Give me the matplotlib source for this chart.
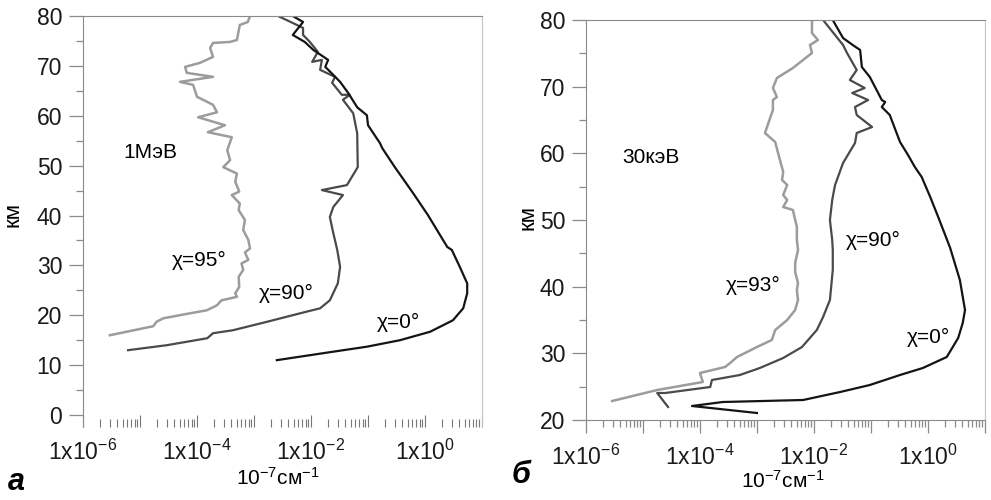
import numpy as np
import matplotlib
matplotlib.use("Agg")
import matplotlib.pyplot as plt
from matplotlib.ticker import LogLocator, FuncFormatter, MultipleLocator, NullFormatter

plt.rcParams['font.family'] = ['Liberation Sans', 'DejaVu Sans']
plt.rcParams['mathtext.fontset'] = 'custom'
plt.rcParams['mathtext.rm'] = 'Liberation Sans'
plt.rcParams['mathtext.it'] = 'Liberation Sans:italic'
plt.rcParams['mathtext.default'] = 'regular'

# panel a (1 MeV): log10 of coefficient vs altitude, km
a_chi0_log = [-2.32, -2.14, -2.32, -2.11, -1.96, -1.70, -1.75, -1.61, -1.49, -1.35,
              -1.19, -1.02, -1.00, -0.79, -0.75, -0.53, -0.21, 0.05, 0.39, 0.47,
              0.61, 0.74, 0.74, 0.67, 0.49, 0.09, -0.44, -1.02, -1.61, -2.60]
a_chi0_h = [80, 78.8, 76.2, 74.8, 73.2, 71.2, 69.8, 68.2, 66.8, 64.6,
            61.7, 60.1, 58.1, 54.5, 53.5, 49.7, 44.5, 40.1, 33.7, 33.1,
            29.7, 26.4, 24.4, 21.4, 19.0, 16.7, 15.0, 13.7, 12.7, 11.0]

a_chi90_log = [-2.58, -2.32, -2.14, -2.14, -2.02, -1.88, -1.98, -1.81, -1.84, -1.58,
               -1.63, -1.46, -1.32, -1.44, -1.26, -1.19, -1.18, -1.37, -1.81, -1.44,
               -1.61, -1.67, -1.61, -1.54, -1.49, -1.53, -1.67, -1.84, -2.19, -2.77,
               -3.37, -3.72, -3.82, -4.53, -5.21]
a_chi90_h = [80, 78.6, 77.6, 76.2, 74.8, 72.8, 70.8, 71.2, 69.2, 67.8,
             66.6, 64.2, 64.2, 63.2, 60.5, 56.5, 49.7, 46.1, 45.1, 44.1,
             41.7, 39.7, 36.5, 33.1, 29.7, 26.4, 23.0, 21.4, 20.4, 18.7,
             17.0, 16.4, 15.4, 14.0, 13.0]

a_chi95_log = [-3.07, -3.11, -3.25, -3.30, -3.42, -3.72, -3.77, -3.72, -3.95, -4.21,
               -4.18, -3.72, -4.30, -4.07, -4.00, -3.72, -3.65, -3.98, -3.51, -3.81,
               -3.39, -3.47, -3.42, -3.54, -3.30, -3.33, -3.26, -3.39, -3.25, -3.27,
               -3.16, -3.19, -3.10, -3.07, -3.16, -3.10, -3.22, -3.19, -3.27, -3.26,
               -3.33, -3.30, -3.57, -3.65, -3.83, -4.12, -4.59, -4.71, -4.77, -5.53]
a_chi95_h = [80, 78.8, 78.2, 75.2, 74.8, 74.6, 73.6, 71.8, 70.6, 69.8,
             68.6, 67.8, 66.8, 66.2, 63.8, 62.2, 60.7, 59.7, 58.1, 56.7,
             55.7, 53.1, 51.1, 49.7, 48.4, 46.8, 44.8, 44.1, 42.4, 41.1,
             39.1, 37.1, 35.1, 33.4, 32.6, 31.1, 30.4, 29.1, 27.7, 25.7,
             24.4, 23.7, 23.0, 22.0, 21.0, 20.4, 19.4, 18.7, 17.8, 16.0]

# panel b (30 keV)
b_chi0_log = [-1.67, -1.49, -1.32, -1.19, -1.16, -1.02, -0.81, -0.75, -0.81, -0.67,
              -0.49, -0.35, -0.23, -0.11, 0.04, 0.18, 0.39, 0.56, 0.65, 0.61,
              0.53, 0.33, -0.09, -0.49, -1.02, -1.54, -2.19, -3.60, -4.14, -3.00]
b_chi0_h = [80, 77.3, 76.25, 75.5, 72.95, 71.45, 68.0, 67.7, 66.95, 65.75,
            61.7, 59.75, 57.95, 56.45, 53.45, 50.45, 45.8, 41.0, 36.5, 34.55,
            32.3, 29.45, 27.8, 26.75, 25.25, 24.2, 23.0, 22.7, 22.1, 21.05]

b_chi90_log = [-1.84, -1.49, -1.42, -1.25, -1.37, -1.11, -1.33, -1.05, -1.28, -1.25,
               -0.98, -1.25, -1.28, -1.49, -1.63, -1.68, -1.72, -1.68, -1.67, -1.67,
               -1.72, -1.84, -1.95, -2.21, -2.54, -2.95, -3.30, -3.79, -3.82, -4.61,
               -4.75, -4.56]
b_chi90_h = [80, 76.25, 75.05, 72.5, 71.0, 69.8, 69.05, 68.0, 66.95, 65.75,
             63.95, 63.05, 61.55, 58.55, 55.25, 53.0, 50.0, 47.0, 45.5, 42.5,
             38.0, 35.45, 33.5, 30.95, 29.3, 27.8, 26.75, 26.0, 24.95, 24.05,
             24.05, 21.95]

b_chi93_log = [-2.035, -2.035, -1.93, -2.07, -2.035, -2.37, -2.65, -2.72, -2.65, -2.72,
               -2.72, -2.86, -2.68, -2.63, -2.54, -2.56, -2.47, -2.54, -2.47, -2.54,
               -2.37, -2.30, -2.30, -2.28, -2.33, -2.33, -2.28, -2.30, -2.28, -2.33,
               -2.47, -2.68, -2.74, -3.00, -3.35, -3.47, -3.56, -4.00, -3.95, -4.75,
               -5.54]
b_chi93_h = [80, 78.05, 77.0, 76.25, 75.05, 72.8, 71.3, 69.8, 68.45, 68.0,
             66.5, 63.05, 61.7, 60.05, 57.2, 56.0, 55.25, 53.75, 53.0, 51.95,
             51.5, 48.95, 47.0, 45.5, 43.55, 42.2, 40.55, 39.5, 38.0, 36.5,
             35.0, 33.5, 32.0, 30.95, 29.45, 28.55, 27.95, 27.05, 25.7, 24.5,
             22.85]

c_black = '#141414'
c_dark = '#4a4a4a'
c_light = '#9c9c9c'
c_spine = '#8a8a8a'
tick_fs = 16.5
note_fs = 15


def fmt_x(v, pos):
    e = int(round(np.log10(v)))
    if e % 2 == 0:
        return '1x10$^{%d}$' % e
    return ''


def style_axes(ax):
    ax.set_xscale('log')
    ax.set_xlim(1e-6, 1e1)
    ax.xaxis.set_major_locator(LogLocator(base=10, numticks=20))
    ax.xaxis.set_minor_locator(LogLocator(base=10, subs=np.arange(2, 10), numticks=20))
    ax.xaxis.set_major_formatter(FuncFormatter(fmt_x))
    ax.xaxis.set_minor_formatter(NullFormatter())
    ax.yaxis.set_major_locator(MultipleLocator(10))
    ax.yaxis.set_minor_locator(MultipleLocator(5))
    ax.spines['top'].set_color(c_spine)
    ax.spines['left'].set_color(c_spine)
    ax.spines['right'].set_color('#c4c4c4')
    ax.spines['bottom'].set_color(c_spine)
    ax.tick_params(axis='y', which='major', direction='out', length=10, width=0.9,
                   color=c_spine, labelsize=tick_fs, labelcolor='#1a1a1a', pad=5)
    ax.tick_params(axis='y', which='minor', direction='out', length=5, width=0.9, color=c_spine)
    ax.tick_params(axis='x', which='major', labelsize=tick_fs, labelcolor='#1a1a1a')


fig = plt.figure(figsize=(9.91, 5.0), dpi=100)

# ---- panel a
ax1 = fig.add_axes([0.0838, 0.146, 0.4026, 0.822])
style_axes(ax1)
ax1.set_ylim(-2.4, 80)
ax1.spines['bottom'].set_visible(False)
ax1.tick_params(axis='x', which='major', direction='in', length=9, width=0.8, color='#777777', pad=9)
ax1.tick_params(axis='x', which='minor', direction='in', length=6, width=0.8, color='#777777')

ax1.plot(10 ** np.array(a_chi95_log), a_chi95_h, color=c_light, lw=1.8)
ax1.plot(10 ** np.array(a_chi90_log), a_chi90_h, color=c_dark, lw=1.6)
ax1.plot(10 ** np.array(a_chi0_log), a_chi0_h, color=c_black, lw=1.6)

ax1.text(0.100, 0.667, '1МэВ', transform=ax1.transAxes, fontsize=note_fs, va='center', ha='left')
ax1.text(0.222, 0.406, 'χ=95°', transform=ax1.transAxes, fontsize=note_fs, va='center', ha='left')
ax1.text(0.440, 0.326, 'χ=90°', transform=ax1.transAxes, fontsize=note_fs, va='center', ha='left')
ax1.text(0.737, 0.255, 'χ=0°', transform=ax1.transAxes, fontsize=note_fs, va='center', ha='left')

ax1.set_ylabel('км', fontsize=16)
ax1.yaxis.set_label_coords(-0.148, 0.516)
ax1.set_xlabel('10$^{-7}$см$^{-1}$', fontsize=15)
ax1.xaxis.set_label_coords(0.489, -0.098)

# ---- panel b
ax2 = fig.add_axes([0.5913, 0.16, 0.4026, 0.80])
style_axes(ax2)
ax2.set_ylim(20, 80)
ax2.tick_params(axis='x', which='major', direction='out', length=9, width=0.9, color=c_spine, pad=9)
ax2.tick_params(axis='x', which='minor', direction='out', length=5, width=0.9, color=c_spine)

ax2.plot(10 ** np.array(b_chi93_log), b_chi93_h, color=c_light, lw=1.8)
ax2.plot(10 ** np.array(b_chi90_log), b_chi90_h, color=c_dark, lw=1.6)
ax2.plot(10 ** np.array(b_chi0_log), b_chi0_h, color=c_black, lw=1.6)

ax2.text(0.090, 0.655, '30кэВ', transform=ax2.transAxes, fontsize=note_fs, va='center', ha='left')
ax2.text(0.650, 0.450, 'χ=90°', transform=ax2.transAxes, fontsize=note_fs, va='center', ha='left')
ax2.text(0.350, 0.3375, 'χ=93°', transform=ax2.transAxes, fontsize=note_fs, va='center', ha='left')
ax2.text(0.803, 0.2075, 'χ=0°', transform=ax2.transAxes, fontsize=note_fs, va='center', ha='left')

ax2.set_ylabel('км', fontsize=16)
ax2.yaxis.set_label_coords(-0.118, 0.5075)
ax2.set_xlabel('10$^{-7}$см$^{-1}$', fontsize=15)
ax2.xaxis.set_label_coords(0.494, -0.125)

# panel letters
fig.text(0.008, 0.02, 'а', fontsize=22, fontweight='bold', fontstyle='italic', ha='left', va='baseline')
fig.text(0.516, 0.034, 'б', fontsize=22, fontweight='bold', fontstyle='italic', ha='left', va='baseline')

fig.savefig('out.png', dpi=100)
